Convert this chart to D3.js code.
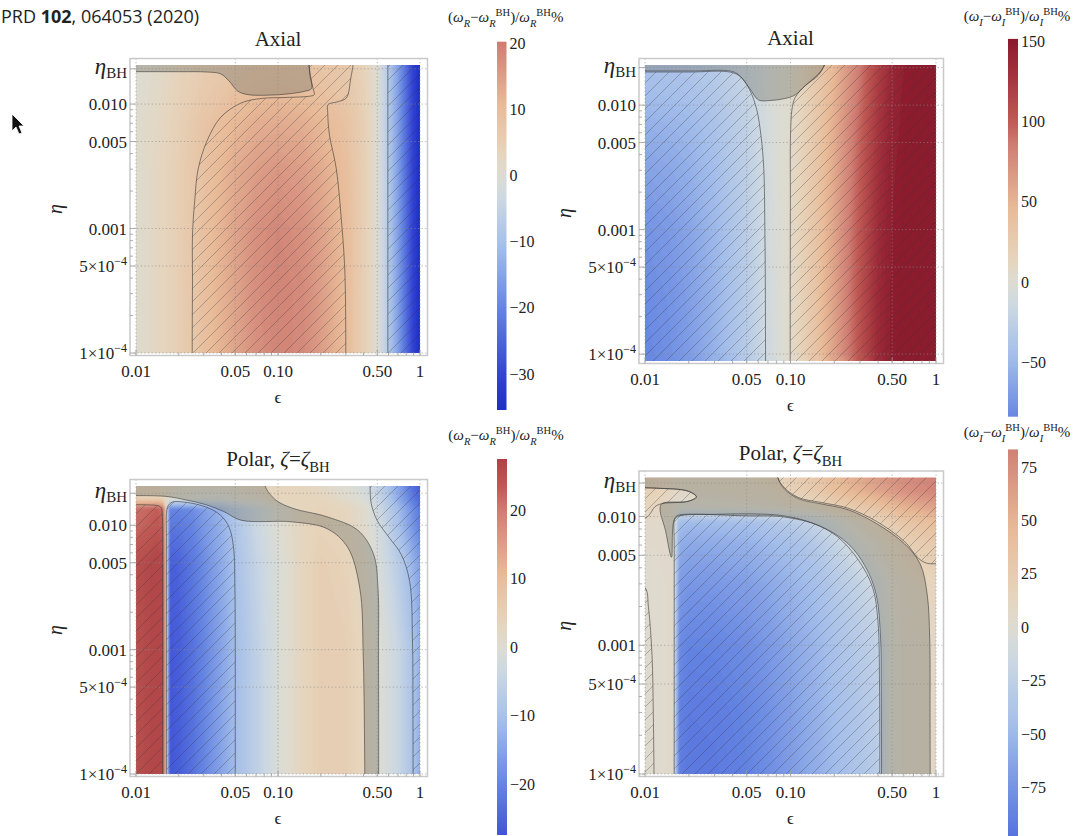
<!DOCTYPE html>
<html>
<head>
<meta charset="utf-8">
<script src="https://cdn.jsdelivr.net/npm/d3@7"></script>
<style>
html,body{margin:0;padding:0;background:#fff;}
svg{display:block;}
</style>
</head>
<body>
<svg id="chart" width="1091" height="836"></svg>
<script>
// ================= DATA =================
// axis ticks
const xTickVals = [0.01, 0.05, 0.1, 0.5, 1];
const xTickText = ["0.01", "0.05", "0.10", "0.50", "1"];
const xMinorVals = [0.02,0.03,0.04,0.06,0.07,0.08,0.09,0.2,0.3,0.4,0.6,0.7,0.8,0.9];
const yTickVals = [0.01, 0.005, 0.001, 5e-4, 1e-4];
const yTickText = ["0.010", "0.005", "0.001", "5×10^−4", "1×10^−4"];
const yMinorVals = [2e-4,3e-4,4e-4,6e-4,7e-4,8e-4,9e-4,0.002,0.003,0.004,0.006,0.007,0.008,0.009];
const etaBHTicks = [0.0192, 0.0200, 0.0181, 0.0182]; // TL, TR, BL, BR

// colour map (value / max|value|  ->  colour)
const cmapStops = [-1, -0.85, -0.565, -0.3, -0.1, 0, 0.1, 0.3, 0.565, 0.66, 0.85, 1];
const cmapColors = ["#1f2ec4","#3343d3","#6585e2","#a5bfea","#ccd8e2","#dddcd2","#e6d4bc","#e8bb98","#cf7d73","#c05a55","#a2323d","#8a1a2c"];

// colour bars
const tlBarRange = [-35.4, 20.2], tlBarTicks = [20, 10, 0, -10, -20, -30];
const trBarRange = [-84, 151.7],  trBarTicks = [150, 100, 50, 0, -50];
const blBarRange = [-27.4, 27.5], blBarTicks = [20, 10, 0, -10, -20];
const brBarRange = [-97.8, 83.4], brBarTicks = [75, 50, 25, 0, -25, -50, -75];

// ---- Top-left: Axial, (wR - wR_BH)/wR_BH %
const tlEps = [0.01,0.015,0.02,0.03,0.05,0.07,0.1,0.15,0.2,0.3,0.4,0.5,0.6,0.7,0.8,0.9,1.0];
const tlEta = [1e-4,3e-4,1e-3,3e-3,0.007,0.012,0.0206];
const tlValues = [
 [0.5,3,5,9,14,17,19,18,15,10,5,0,-8,-16,-24,-31,-35],
 [0.5,3,5,9,14,17.5,19,18,15,10,5,0,-8,-16,-24,-31,-35],
 [0.5,3,5,9,14,17,18.5,17,14.5,10,5,0,-8,-16,-24,-31,-35],
 [0.5,3,5,8.5,13,15,16,15,13,9.5,5,0,-8,-16,-24,-31,-35],
 [0.5,2.5,4.5,8,11,12.5,13,12.5,11,8.5,5,0,-8,-16,-24,-31,-35],
 [0,2,4,6.5,9,10,10.5,10,9,7.5,4.5,0,-8,-16,-24,-31,-35],
 [0,1.5,3.5,5.5,7.5,8.5,9,8.5,8,7,4,0,-8,-16,-24,-31,-35]];
const tlHatchALeft = [[0.0249,8e-5],[0.0249,1.5e-4],[0.025,4e-4],[0.025,8.9e-4],[0.0259,1.66e-3],[0.0274,3.0e-3],[0.0315,5.0e-3],[0.0394,7.8e-3],[0.055,0.0102],[0.077,0.0111],[0.114,0.0113],[0.17,0.0116],[0.18,0.0119],[0.176,0.0135],[0.169,0.017],[0.165,0.021],[0.164,0.025]];
const tlHatchARight = [[0.34,0.025],[0.338,0.021],[0.325,0.016],[0.303,0.0112],[0.26,0.0104],[0.225,0.0099],[0.224,0.0085],[0.23,0.0057],[0.257,0.00305],[0.279,0.0012],[0.295,4.8e-4],[0.30,1.5e-4],[0.30,8e-5]];
const tlHatchBEdge = [[0.594,8e-5],[0.594,1e-3],[0.594,0.025]];
const tlHatchBClose = [[1.2,0.025],[1.2,8e-5]];
const tlGrayEdge = [[0.008,0.0182],[0.02,0.0182],[0.0315,0.0181],[0.0394,0.0175],[0.0453,0.0153],[0.0521,0.0127],[0.0617,0.0119],[0.0863,0.0118],[0.1205,0.0121],[0.155,0.0127],[0.172,0.0133],[0.168,0.017],[0.165,0.021],[0.164,0.025]];
const tlGrayClose = [[0.008,0.025]];

// ---- Top-right: Axial, (wI - wI_BH)/wI_BH %
const trEps = [0.01,0.015,0.02,0.03,0.05,0.07,0.1,0.15,0.2,0.3,0.4,0.5,0.6,0.7,0.8,0.9,1.0];
const trEta = [1e-4,3e-4,1e-3,3e-3,0.007,0.012,0.021];
const trValues = [
 [-85,-78,-70,-55,-32,-12,5,35,62,105,135,148,152,152,152,152,152],
 [-82,-76,-68,-54,-31,-11,5,35,62,105,135,148,152,152,152,152,152],
 [-76,-71,-64,-51,-29,-10,5,34,60,103,133,147,151,152,152,152,152],
 [-66,-62,-57,-46,-27,-9,5,32,57,99,130,145,150,152,152,152,152],
 [-56,-53,-50,-41,-24,-8,4,30,54,95,126,142,149,151,152,152,152],
 [-47,-45,-43,-36,-21,-7,4,28,50,90,122,140,148,150,151,152,152],
 [-42,-40,-38,-32,-18,-6,3,26,47,86,118,137,146,150,151,152,152]];
const trHatchLEdge = [[0.008,0.01845],[0.02,0.01845],[0.0387,0.0184],[0.0456,0.0168],[0.0525,0.0132],[0.0586,0.0092],[0.0627,0.00566],[0.0655,0.0031],[0.0667,9.2e-4],[0.0672,3e-4],[0.0674,7e-5]];
const trHatchLClose = [[0.008,7e-5]];
const trHatchREdge = [[0.0995,7e-5],[0.0995,3e-4],[0.0998,1.68e-3],[0.1,5.66e-3],[0.1023,0.0092],[0.107,0.01135],[0.1175,0.0132],[0.139,0.0158],[0.16,0.01845],[0.175,0.022],[0.18,0.026]];
const trHatchRClose = [[1.2,0.026],[1.2,7e-5]];
const trGrayStart = [[0.008,0.026]];
const trGrayEdge = [[0.008,0.0188],[0.02,0.0188],[0.0393,0.0187],[0.0444,0.01734],[0.0525,0.0136],[0.0603,0.0110],[0.0732,0.0109],[0.0915,0.0113],[0.108,0.0121],[0.1277,0.0145],[0.155,0.01734],[0.1706,0.021],[0.176,0.026]];

// ---- Bottom-left: Polar, (wR - wR_BH)/wR_BH %
const blEps = [0.01,0.012,0.014,0.0155,0.017,0.02,0.025,0.03,0.04,0.05,0.07,0.1,0.15,0.2,0.3,0.4,0.5,0.6,0.7,0.8,0.9,1.0];
const blEta = [1e-4,1e-3,5e-3,0.01,0.0135,0.0165,0.0207];
const blValues = [
 [25,26,27,26,-27,-26,-23,-20,-15,-11,-6,-1,3,5,5,3,0,-2,-4,-7,-10,-13],
 [25,26,27,26,-27,-26,-23,-20,-15,-11,-6,-1,3,5,5,3,0,-2,-4,-7,-10,-13],
 [25,26,27,26,-26,-25,-22,-19,-14,-10,-5,-1,3,5,4,2,-1,-4,-7,-10,-13,-16],
 [22,23,24,23,-22,-22,-20,-17,-13,-9,-4,0,3,4,3,1,-2,-6,-10,-14,-18,-21],
 [21,22,23,21,-20,-20,-19,-16,-12,-8,-4,0,3,4,3,1,-3,-7,-11,-15,-19,-22],
 [4,4,4,3,1,0,0,-1,-1,0,1,3,3,3,1,-1,-4,-9,-14,-18,-22,-25],
 [4,4,4,3,2,2,1,1,1,2,3,3,3,2,0,-2,-5,-10,-15,-20,-24,-26]];
const blRedEdge = [[0.008,0.0146],[0.012,0.0146],[0.0145,0.0143],[0.0151,0.0137],[0.0153,0.0125],[0.0154,0.005],[0.0154,8e-5]];
const blRedClose = [[0.008,8e-5]];
const blBlueEdge = [[0.01635,8e-5],[0.01635,1e-3],[0.01637,0.008],[0.0164,0.0125],[0.0168,0.0143],[0.018,0.01535],[0.0225,0.0153],[0.0314,0.01397],[0.0392,0.0121],[0.0452,0.00968],[0.0486,0.00664],[0.0497,0.00311],[0.05,1e-3],[0.05,8e-5]];
const blCornerEdge = [[0.445,0.025],[0.445,0.0207],[0.453,0.01507],[0.498,0.011],[0.605,0.008],[0.736,0.00585],[0.846,0.00353],[0.885,0.00121],[0.892,3e-4],[0.894,8e-5]];
const blCornerClose = [[1.2,8e-5],[1.2,0.025]];
const blGrayStart = [[0.008,0.025]];
const blGrayOuter = [[0.0811,0.025],[0.0811,0.0207],[0.0959,0.01603],[0.1268,0.01371],[0.2214,0.0117],[0.366,0.0091],[0.471,0.00585],[0.506,0.00311],[0.51,8.8e-4],[0.5115,8e-5]];
const blGrayInner = [[0.409,8e-5],[0.3985,8.8e-4],[0.3767,0.00311],[0.3097,0.00664],[0.2214,0.0094],[0.1268,0.01065],[0.0548,0.011],[0.0415,0.0129],[0.0314,0.0146],[0.0225,0.0160],[0.0161,0.0171],[0.008,0.0173]];

// ---- Bottom-right: Polar, (wI - wI_BH)/wI_BH %
const brEps = [0.01,0.012,0.014,0.0155,0.017,0.02,0.03,0.05,0.07,0.1,0.15,0.2,0.3,0.4,0.5,0.6,0.8,1.0];
const brEta = [1e-4,3e-4,1e-3,3e-3,0.006,0.009,0.012,0.016,0.0201];
const brValues = [
 [3,3,4,5,-90,-95,-94,-88,-80,-70,-58,-48,-38,-30,0,6,8,8],
 [3,3,4,5,-88,-93,-92,-86,-78,-68,-56,-46,-36,-28,0,6,8,8],
 [3,3,4,5,-82,-87,-86,-80,-73,-63,-52,-42,-32,-24,0,6,8,9],
 [3,3,4,5,-70,-74,-73,-68,-62,-54,-44,-34,-22,-10,3,8,12,14],
 [4,4,4,5,-58,-62,-60,-56,-50,-44,-34,-22,-5,5,12,18,24,28],
 [6,6,5,5,-45,-48,-47,-44,-38,-32,-20,-8,8,16,24,32,38,42],
 [15,12,8,6,0,0,2,3,5,8,12,20,30,38,46,52,58,62],
 [20,18,15,10,8,8,8,10,12,18,28,40,52,60,66,72,77,80],
 [22,20,17,12,10,10,10,12,15,22,32,45,58,66,72,76,80,83]];
const brBlueEdge = [[0.01587,8e-5],[0.01587,1e-3],[0.01588,0.006],[0.0159,0.00942],[0.01633,0.0100],[0.01726,0.0103],[0.03,0.0104],[0.0525,0.0105],[0.0914,0.0101],[0.1429,0.00885],[0.211,0.00695],[0.2944,0.00455],[0.3674,0.0028],[0.399,0.00153],[0.409,5e-4],[0.411,8e-5]];
const brGrayStart = [[0.008,0.025]];
const brGrayOuter = [[0.0818,0.025],[0.0818,0.0201],[0.0914,0.01626],[0.1143,0.01371],[0.1596,0.01259],[0.249,0.01129],[0.388,0.00885],[0.607,0.00615],[0.778,0.00429],[0.87,0.00248],[0.905,0.00113],[0.91,3e-4],[0.912,8e-5]];
const brGrayInner = [[0.4226,8e-5],[0.42,5e-4],[0.416,0.00113],[0.388,0.00248],[0.329,0.00403],[0.249,0.00615],[0.1596,0.00844],[0.0914,0.0099],[0.0525,0.0101],[0.0173,0.0101],[0.0159,0.00942],[0.0152,0.00483],[0.0138,0.00785],[0.0127,0.0113],[0.01306,0.01259],[0.0198,0.01313],[0.02255,0.01422],[0.0198,0.01574],[0.012,0.0166],[0.008,0.0168]];
const brRedEdge = [[0.0818,0.025],[0.0818,0.0201],[0.0914,0.0166],[0.1143,0.014],[0.1596,0.0129],[0.249,0.0116],[0.388,0.0092],[0.607,0.0064],[0.763,0.0047],[0.87,0.00433],[1.0,0.0043],[1.2,0.0043]];
const brRedClose = [[1.2,0.025]];
const brPeachEdge = [[0.008,0.01675],[0.012,0.0166],[0.0198,0.01574],[0.02255,0.01422],[0.0198,0.01313],[0.01306,0.01259],[0.0117,0.0119],[0.0109,0.0106],[0.0102,0.0098],[0.008,0.0095]];
const brSliverEdge = [[0.008,0.0030],[0.01,0.0028],[0.01057,0.00195],[0.01118,8.3e-4],[0.0114,3e-4],[0.01156,8e-5]];
const brSliverClose = [[0.008,8e-5]];

// ================= DRAWING =================
const svg = d3.select('#chart');
const defs = svg.append('defs');
const SERIF = '"Liberation Serif","DejaVu Serif",serif';

defs.append('pattern').attr('id','hatch').attr('patternUnits','userSpaceOnUse')
  .attr('width',13).attr('height',13)
  .append('path').attr('d','M-3,3 L3,-3 M0,13 L13,0 M10,16 L16,10')
  .attr('stroke','#333').attr('stroke-width',0.7).attr('stroke-opacity',0.45).attr('fill','none');

const blurF = defs.append('filter').attr('id','soft').attr('x','-5%').attr('y','-5%').attr('width','110%').attr('height','110%');
blurF.append('feGaussianBlur').attr('stdDeviation',1.0);

function makeColor(M) {
  return d3.scaleLinear().domain(cmapStops.map(t => t * M)).range(cmapColors)
    .interpolate(d3.interpolateRgb).clamp(true);
}

function rich(sel, parts, size) {
  let cur = 0;
  parts.forEach(p => {
    const fs = p.fs || (p.s ? size * 0.7 : size);
    const off = p.s === 'sub' ? size * 0.3 : (p.s === 'sup' ? -size * 0.42 : 0);
    sel.append('tspan').attr('dy', (off - cur).toFixed(2)).attr('font-size', fs)
      .attr('font-style', p.i ? 'italic' : 'normal').text(p.t);
    cur = off;
  });
}

const titleAxial = [{t:'Axial'}];
const titlePolar = [{t:'Polar, '},{t:'ζ',i:1},{t:'='},{t:'ζ',i:1},{t:'BH',s:'sub'}];
function cbTitle(q) {
  return [{t:'('},{t:'ω',i:1},{t:q,i:1,s:'sub'},{t:'−'},{t:'ω',i:1},{t:q,i:1,s:'sub'},{t:'BH',s:'sup'},
          {t:')/'},{t:'ω',i:1},{t:q,i:1,s:'sub'},{t:'BH',s:'sup'},{t:'%'}];
}

const panels = [
  {id:'tl', eps:tlEps, eta:tlEta, values:tlValues, M:35.4, xr:[136,420], yr:[353,65], etaDom:[1e-4,0.0206], etaBH:etaBHTicks[0],
   title:titleAxial, titleY:46, cbQ:'R', cbTitleY:22, cbX:497, cbW:9.5, cbY:[410,41.7], cbRange:tlBarRange, cbTicks:tlBarTicks,
   hatch:[[{c:1,p:tlHatchALeft},{c:1,p:tlHatchARight}], [{c:1,p:tlHatchBEdge},{c:0,p:tlHatchBClose}]],
   gray:[[{c:1,p:tlGrayEdge},{c:0,p:tlGrayClose}]]},
  {id:'tr', eps:trEps, eta:trEta, values:trValues, M:152, xr:[645,936], yr:[361,65], etaDom:[8.8e-5,0.021], etaBH:etaBHTicks[1],
   title:titleAxial, titleY:45, cbQ:'I', cbTitleY:21, cbX:1008, cbW:10, cbY:[416.7,38.9], cbRange:trBarRange, cbTicks:trBarTicks,
   hatch:[[{c:1,p:trHatchLEdge},{c:0,p:trHatchLClose}], [{c:1,p:trHatchREdge},{c:0,p:trHatchRClose}]],
   gray:[[{c:0,p:trGrayStart},{c:1,p:trGrayEdge}]]},
  {id:'bl', eps:blEps, eta:blEta, values:blValues, M:35.4, xr:[136,420], yr:[774,486], etaDom:[1e-4,0.0207], etaBH:etaBHTicks[2],
   title:titlePolar, titleY:466, cbQ:'R', cbTitleY:440, cbX:497, cbW:10, cbY:[835,459], cbRange:blBarRange, cbTicks:blBarTicks,
   hatch:[[{c:1,p:blRedEdge},{c:0,p:blRedClose}], [{c:1,p:blBlueEdge}], [{c:1,p:blCornerEdge},{c:0,p:blCornerClose}]],
   gray:[[{c:0,p:blGrayStart},{c:1,p:blGrayOuter},{c:1,p:blGrayInner}]]},
  {id:'br', eps:brEps, eta:brEta, values:brValues, M:152, xr:[645,936], yr:[774,477.5], etaDom:[1e-4,0.0201], etaBH:etaBHTicks[3],
   title:titlePolar, titleY:460, cbQ:'I', cbTitleY:437, cbX:1008, cbW:10, cbY:[836,449.4], cbRange:brBarRange, cbTicks:brBarTicks,
   hatch:[[{c:1,p:brBlueEdge}], [{c:1,p:brRedEdge},{c:0,p:brRedClose}], [{c:1,p:brPeachEdge}], [{c:1,p:brSliverEdge},{c:0,p:brSliverClose}]],
   gray:[[{c:0,p:brGrayStart},{c:1,p:brGrayOuter},{c:1,p:brGrayInner}]]}
];

function drawPanel(P) {
  const x = d3.scaleLog().domain([0.01, 1]).range(P.xr);
  const y = d3.scaleLog().domain(P.etaDom).range(P.yr);
  const color = makeColor(P.M);
  const X0 = P.xr[0], X1 = P.xr[1], Y0 = P.yr[1], Y1 = P.yr[0];
  const fx0 = X0 - 6, fx1 = X1 + 7.5, fy0 = Y0 - 6.5, fy1 = Y1 + 2.5;
  const g = svg.append('g');

  defs.append('clipPath').attr('id', 'clip-' + P.id)
    .append('rect').attr('x', X0).attr('y', Y0).attr('width', X1 - X0).attr('height', Y1 - Y0);
  const plot = g.append('g').attr('clip-path', `url(#clip-${P.id})`);

  // ---- density via d3.contours
  const nx = P.eps.length, ny = P.eta.length;
  const flat = [];
  P.values.forEach(r => r.forEach(v => flat.push(v)));
  const lo = d3.min(flat), hi = d3.max(flat);
  const nT = 90, step = (hi - lo) / nT;
  const th = d3.range(1, nT).map(k => lo + k * step);
  const gx = d3.scaleLinear().domain(P.eps.map((_, i) => i + 0.5)).range(P.eps.map(e => x(e)));
  const gy = d3.scaleLinear().domain(P.eta.map((_, j) => j + 0.5)).range(P.eta.map(e => y(e)));
  const proj = d3.geoTransform({ point: function(a, b) { this.stream.point(gx(a), gy(b)); } });
  const gp = d3.geoPath(proj);
  const heat = plot.append('g').attr('filter', 'url(#soft)');
  heat.append('rect').attr('x', X0 - 20).attr('y', Y0 - 20).attr('width', X1 - X0 + 40).attr('height', Y1 - Y0 + 40)
    .attr('fill', color(lo + step / 2));
  const cs = d3.contours().size([nx, ny]).thresholds(th)(flat);
  heat.selectAll('path').data(cs).join('path')
    .attr('d', gp).attr('fill', d => color(d.value + step / 2))
    .attr('stroke', d => color(d.value + step / 2)).attr('stroke-width', 0.6);

  // ---- regions
  const lineC = d3.line().x(d => x(d[0])).y(d => y(d[1])).curve(d3.curveCatmullRom.alpha(0.5));
  const lineL = d3.line().x(d => x(d[0])).y(d => y(d[1]));
  function regionPath(parts) {
    let s = '';
    parts.forEach((p, k) => { let q = (p.c ? lineC : lineL)(p.p); if (k > 0) q = 'L' + q.slice(1); s += q; });
    return s + 'Z';
  }
  P.gray.forEach(parts => {
    plot.append('path').attr('d', regionPath(parts)).attr('fill', '#78786f').attr('fill-opacity', 0.4);
  });
  P.hatch.forEach(parts => {
    plot.append('path').attr('d', regionPath(parts)).attr('fill', 'url(#hatch)');
  });
  P.gray.concat(P.hatch).forEach(parts => {
    parts.filter(p => p.c).forEach(p => {
      plot.append('path').attr('d', lineC(p.p)).attr('fill', 'none')
        .attr('stroke', '#3a3a3a').attr('stroke-opacity', 0.6).attr('stroke-width', 1);
    });
  });

  // ---- grid lines
  const gridY = yTickVals.concat([P.etaBH]);
  g.selectAll('.gx').data(xTickVals).join('line')
    .attr('x1', d => x(d)).attr('x2', d => x(d)).attr('y1', fy0).attr('y2', fy1)
    .attr('stroke', '#8a8a8a').attr('stroke-width', 0.8).attr('stroke-dasharray', '1.2,2.4').attr('opacity', 0.8);
  g.selectAll('.gy').data(gridY).join('line')
    .attr('x1', fx0).attr('x2', fx1).attr('y1', d => y(d)).attr('y2', d => y(d))
    .attr('stroke', '#8a8a8a').attr('stroke-width', 0.8).attr('stroke-dasharray', '1.2,2.4').attr('opacity', 0.8);

  // ---- frame
  g.append('rect').attr('x', fx0).attr('y', fy0).attr('width', fx1 - fx0).attr('height', fy1 - fy0)
    .attr('fill', 'none').attr('stroke', '#c9c9c9').attr('stroke-width', 1.5);

  // ---- ticks
  const tk = g.append('g').attr('stroke', '#9a9a9a').attr('stroke-width', 0.8);
  xTickVals.forEach(v => tk.append('line').attr('x1', x(v)).attr('x2', x(v)).attr('y1', fy1).attr('y2', fy1 - 6));
  xMinorVals.forEach(v => tk.append('line').attr('x1', x(v)).attr('x2', x(v)).attr('y1', fy1).attr('y2', fy1 - 3));
  gridY.forEach(v => tk.append('line').attr('x1', fx0).attr('x2', fx0 + 6).attr('y1', y(v)).attr('y2', y(v)));
  yMinorVals.forEach(v => tk.append('line').attr('x1', fx0).attr('x2', fx0 + 3).attr('y1', y(v)).attr('y2', y(v)));

  // ---- tick labels
  const lab = g.append('g').attr('font-family', SERIF).attr('fill', '#222');
  xTickVals.forEach((v, i) => {
    lab.append('text').attr('x', x(v)).attr('y', Y1 + 24).attr('text-anchor', 'middle')
      .attr('font-size', 17).text(xTickText[i]);
  });
  yTickVals.forEach((v, i) => {
    const t = lab.append('text').attr('x', fx0 - 3).attr('y', y(v) + 6).attr('text-anchor', 'end').attr('font-size', 17);
    const s = yTickText[i].split('^');
    if (s.length > 1) rich(t, [{t:s[0]},{t:s[1],s:'sup',fs:12}], 17);
    else t.text(s[0]);
  });
  const tb = lab.append('text').attr('x', fx0 - 3).attr('y', y(P.etaBH) + 5).attr('text-anchor', 'end');
  rich(tb, [{t:'η',i:1,fs:23},{t:'BH',s:'sub',fs:15}], 14);

  // ---- axis labels & title
  lab.append('text').attr('x', (X0 + X1) / 2).attr('y', Y1 + 50).attr('text-anchor', 'middle')
    .attr('font-size', 17).text('ϵ');
  const cy = (Y0 + Y1) / 2, lx = X0 - 74;
  lab.append('text').attr('transform', `translate(${lx},${cy}) rotate(-90)`).attr('text-anchor', 'middle')
    .attr('font-size', 20).attr('font-style', 'italic').text('η');
  const tt = lab.append('text').attr('x', (X0 + X1) / 2).attr('y', P.titleY).attr('text-anchor', 'middle');
  rich(tt, P.title, 21);

  // ---- colour bar
  const gid = 'grad-' + P.id;
  const grad = defs.append('linearGradient').attr('id', gid).attr('x1', 0).attr('y1', 1).attr('x2', 0).attr('y2', 0);
  const [cmin, cmax] = P.cbRange;
  d3.range(0, 41).forEach(k => {
    const f = k / 40;
    grad.append('stop').attr('offset', f).attr('stop-color', color(cmin + f * (cmax - cmin)));
  });
  const cbS = d3.scaleLinear().domain(P.cbRange).range(P.cbY);
  g.append('rect').attr('x', P.cbX).attr('y', cbS(cmax)).attr('width', P.cbW).attr('height', cbS(cmin) - cbS(cmax))
    .attr('fill', `url(#${gid})`);
  P.cbTicks.forEach(v => {
    lab.append('text').attr('x', P.cbX + P.cbW + 3).attr('y', cbS(v) + 5.5).attr('font-size', 16)
      .text(v < 0 ? '−' + Math.abs(v) : String(v));
  });
  const ct = lab.append('text').attr('x', P.cbX + P.cbW / 2 + 4).attr('y', P.cbTitleY).attr('text-anchor', 'middle');
  rich(ct, cbTitle(P.cbQ), 15);
}

panels.forEach(drawPanel);

// ---- header
const hd = svg.append('text').attr('x', 1).attr('y', 23).attr('font-family', '"Open Sans","Noto Sans",sans-serif')
  .attr('font-size', 18).attr('fill', '#222');
hd.append('tspan').text('PRD ');
hd.append('tspan').attr('font-weight', 'bold').text('102');
hd.append('tspan').text(', 064053 (2020)');

// ---- mouse pointer in the screenshot
svg.append('path').attr('d', 'M12,114 L12,131 L16,127 L19,134 L22,133 L19,126 L24,126 Z')
  .attr('fill', '#111').attr('stroke', '#fff').attr('stroke-width', 0.8);
</script>
</body>
</html>
